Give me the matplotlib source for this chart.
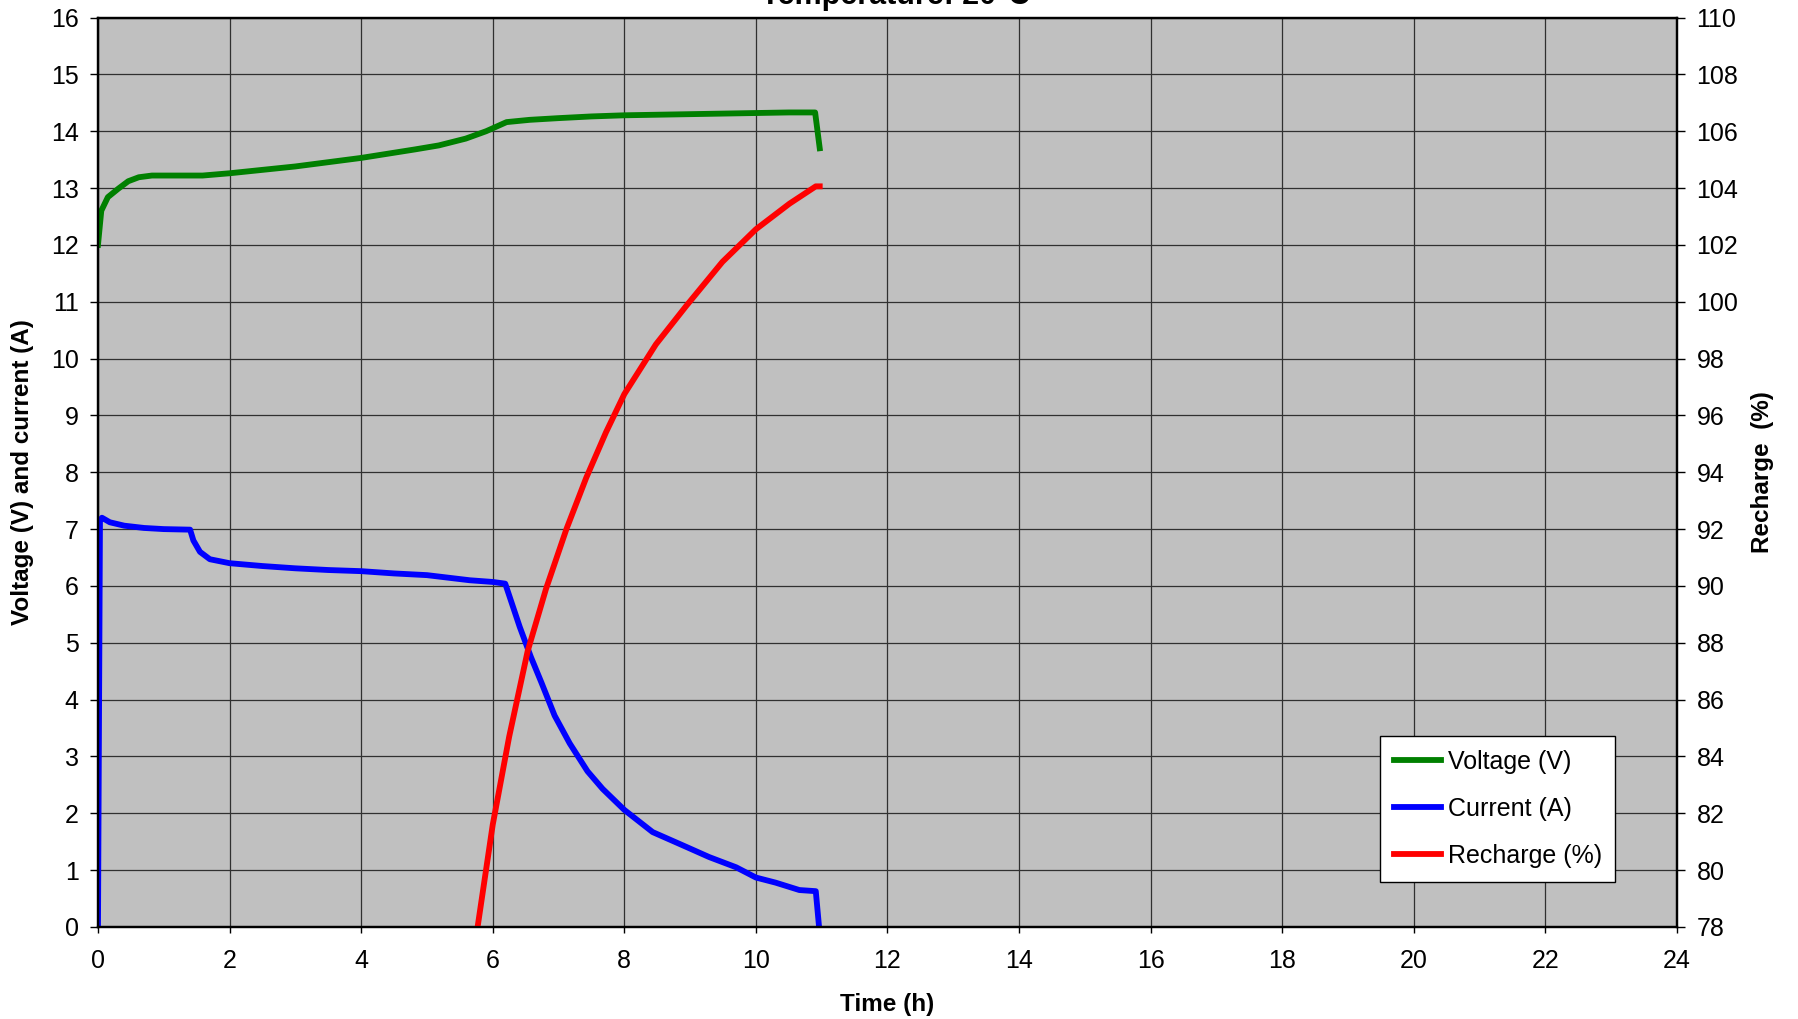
import matplotlib.pyplot as plt

plt.rcParams['font.family'] = ['Liberation Sans', 'DejaVu Sans']

# voltage (V) vs time (h)
t_volt = [0.0, 0.05, 0.15, 0.31, 0.46, 0.62, 0.82, 1.33, 1.59, 2.0, 3.0, 4.0, 4.82,
          5.18, 5.59, 5.9, 6.21, 6.56, 7.0, 7.5, 8.0, 8.5, 9.0, 9.5, 10.0, 10.5, 10.9,
          10.97]
volt = [12.0, 12.6, 12.84, 12.99, 13.12, 13.19, 13.22, 13.22, 13.22, 13.26, 13.38,
        13.53, 13.68, 13.75, 13.87, 14.0, 14.16, 14.2, 14.23, 14.26, 14.28, 14.29, 14.3,
        14.31, 14.32, 14.33, 14.33, 13.7]

# current (A) vs time (h)
t_curr = [0.0, 0.03, 0.06, 0.18, 0.4, 0.7, 1.0, 1.4, 1.45, 1.55, 1.7, 2.0, 2.5, 3.0,
          3.5, 4.0, 4.5, 5.0, 5.65, 6.0, 6.19, 6.41, 6.58, 6.74, 6.94, 7.17, 7.44, 7.67,
          8.0, 8.43, 8.94, 9.29, 9.7, 10.0, 10.3, 10.66, 10.91, 10.96]
curr = [0.0, 7.15, 7.2, 7.12, 7.06, 7.02, 7.0, 6.99, 6.8, 6.6, 6.47, 6.4, 6.35, 6.31,
        6.28, 6.26, 6.22, 6.19, 6.1, 6.07, 6.04, 5.28, 4.75, 4.3, 3.72, 3.23, 2.74, 2.43,
        2.06, 1.67, 1.41, 1.23, 1.05, 0.87, 0.78, 0.65, 0.63, 0.0]

# recharge (%) vs time (h)
t_rech = [5.77, 6.0, 6.25, 6.53, 6.81, 7.12, 7.42, 7.72, 8.0, 8.48, 8.94, 9.49, 10.0,
          10.51, 10.91, 10.97]
rech = [78.0, 81.6, 84.7, 87.7, 89.9, 92.0, 93.8, 95.4, 96.75, 98.5, 99.85, 101.4,
        102.55, 103.45, 104.06, 104.06]

fig = plt.figure(figsize=(17.98, 10.19), dpi=100)
ax = fig.add_axes([0.0545, 0.0903, 0.8782, 0.8925])
ax.set_facecolor('#C0C0C0')
ax2 = ax.twinx()

lv, = ax.plot(t_volt, volt, color='#008000', lw=4.2, label='Voltage (V)')
lc, = ax.plot(t_curr, curr, color='#0000FF', lw=4.2, label='Current (A)')
lr, = ax2.plot(t_rech, rech, color='#FF0000', lw=4.2, label='Recharge (%)')

ax.set_xlim(0, 24)
ax.set_ylim(0, 16)
ax2.set_ylim(78, 110)
ax.set_xticks(range(0, 25, 2))
ax.set_yticks(range(0, 17))
ax2.set_yticks(range(78, 111, 2))
ax.grid(True, color='#303030', lw=0.9)
ax.set_axisbelow(True)

for a in (ax, ax2):
    a.tick_params(labelsize=18, direction='out', length=6, width=1, pad=8)
    for s in a.spines.values():
        s.set_linewidth(1.6)
ax.tick_params(axis='x', length=4, pad=12)

ax.set_xlabel('Time (h)', fontsize=17.5, fontweight='bold', labelpad=14)
ax.set_ylabel('Voltage (V) and current (A)', fontsize=17.5, fontweight='bold', labelpad=12)
ax2.set_ylabel('Recharge  (%)', fontsize=17.5, fontweight='bold', labelpad=9)

fig.text(0.498, 1 - 4 / 1019, 'Temperature: 20°C', ha='center', va='baseline',
         fontsize=22, fontweight='bold')

leg = ax2.legend(handles=[lv, lc, lr], loc='lower right', bbox_to_anchor=(0.961, 0.05),
                 fontsize=18, fancybox=False, framealpha=1, edgecolor='black',
                 handlelength=1.9, labelspacing=0.92, borderpad=0.55, handletextpad=0.25,
                 borderaxespad=0)
leg.get_frame().set_linewidth(1.0)

fig.savefig('out.png', dpi=100)
